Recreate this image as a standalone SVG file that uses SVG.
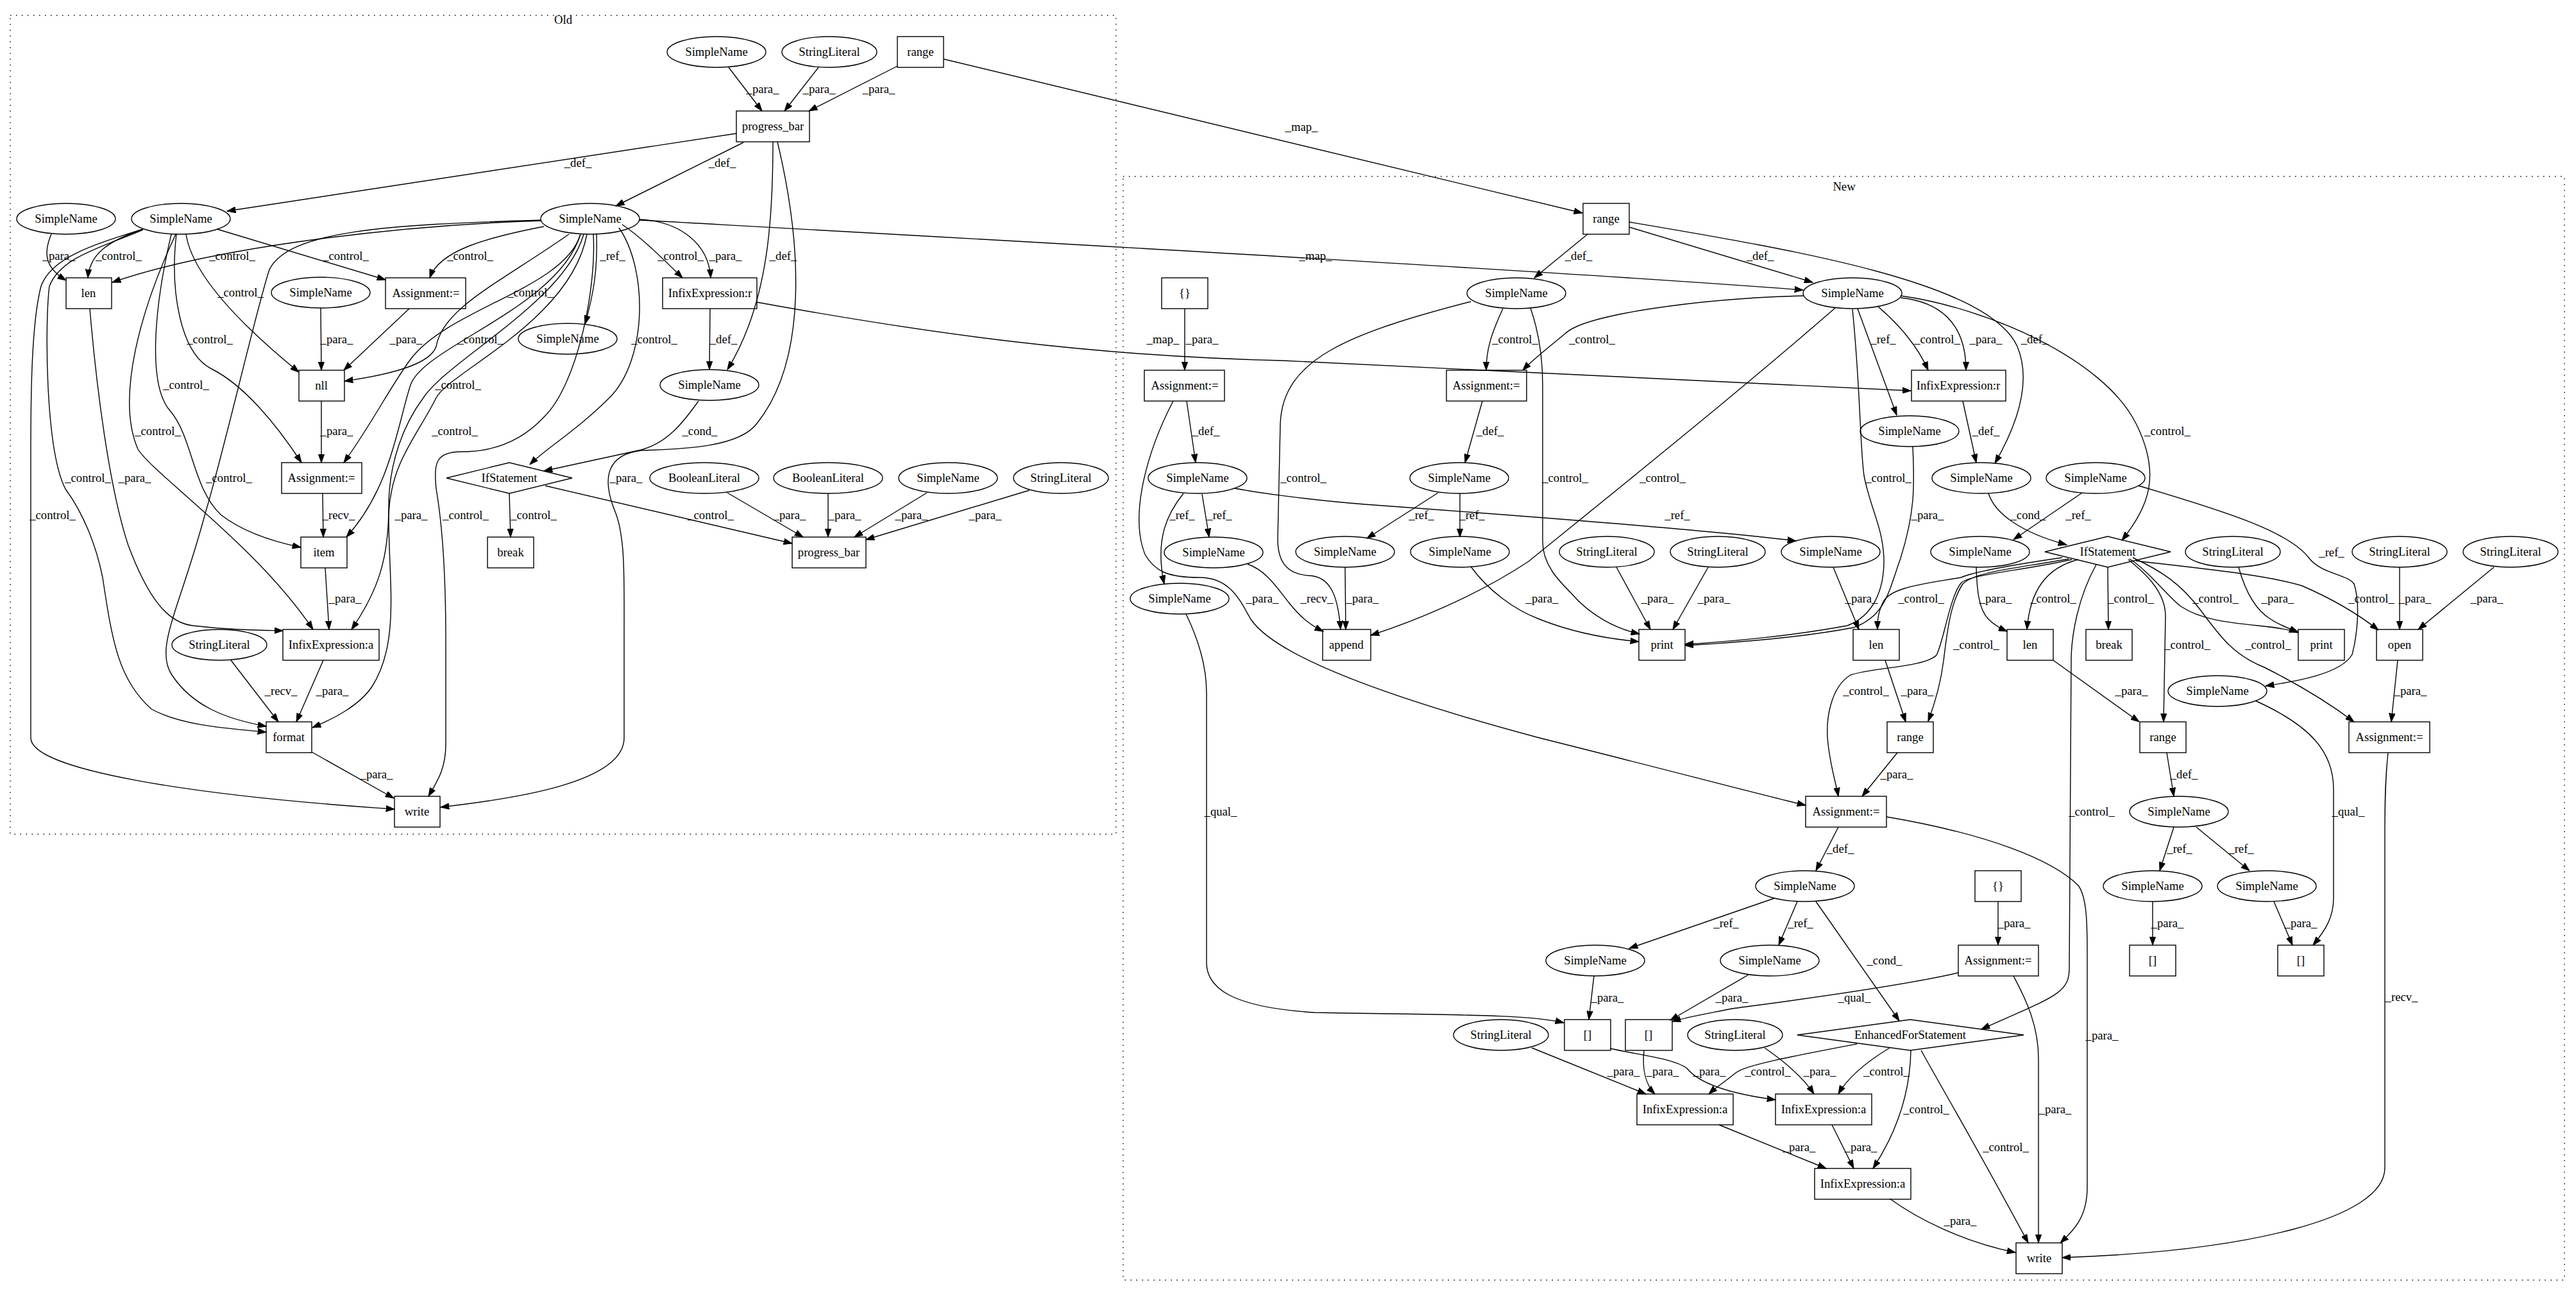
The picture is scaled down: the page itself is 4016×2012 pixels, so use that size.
<svg xmlns="http://www.w3.org/2000/svg" width="4016" height="2012" viewBox="0 0 4016 2012">
<style>
text{font-family:"Liberation Serif","Times New Roman",serif;font-size:18.67px;text-anchor:middle;fill:#000}
.n ellipse,.n rect,.n polygon{fill:none;stroke:#000;stroke-width:1.4}
.e path{fill:none;stroke:#000;stroke-width:1.4;marker-end:url(#a)}
.cl{fill:none;stroke:#000;stroke-width:1.4;stroke-dasharray:1.5,7.5}
</style>
<defs>
<marker id="a" markerWidth="14" markerHeight="10" refX="13.3" refY="5" orient="auto" markerUnits="userSpaceOnUse"><path d="M0,0.3 L13.3,5 L0,9.7 z" fill="#000" stroke="#000" stroke-width="1"/></marker>
</defs>
<rect width="4016" height="2012" fill="#fff"/>
<g id="clusters">
<rect class="cl" x="16" y="24" width="1724" height="1276"/>
<text x="878" y="37">Old</text>
<rect class="cl" x="1751" y="275" width="2247" height="1720"/>
<text x="2875" y="297">New</text>
</g>
<g id="connectors" class="e">
<path d="M1136,105 L1188,173"/>
<path d="M1276,105 L1223,173"/>
<path d="M1399,103 L1261,173"/>
<path d="M1148,208 L354,329"/>
<path d="M1159,222 L960,321"/>
<path d="M1205,221 C1205,330 1200,470 1134,576"/>
<path d="M1212,221 C1250,380 1260,560 1180,660 C1150,700 1050,700 1000,702 C950,708 935,740 960,800 C975,840 973,900 973,1000 L973,1150 C973,1220 800,1245 687,1258"/>
<path d="M80,365 C65,400 75,420 103,437"/>
<path d="M223,357 C170,375 140,395 137,433"/>
<path d="M844,344 C650,350 350,380 175,440"/>
<path d="M338,357 L601,436"/>
<path d="M848,353 C760,370 685,390 670,433"/>
<path d="M930,365 C932,420 925,460 912,505"/>
<path d="M970,350 C1000,370 1030,400 1064,433"/>
<path d="M997,342 C1060,345 1105,380 1108,433"/>
<path d="M290,365 C300,430 380,510 466,580"/>
<path d="M887,365 C780,440 690,480 680,540 C670,570 600,585 537,594"/>
<path d="M500,480 L501,577"/>
<path d="M638,481 L536,577"/>
<path d="M275,365 C265,450 280,550 330,575 C380,600 430,660 470,721"/>
<path d="M905,365 C880,450 700,480 640,560 C610,600 580,660 536,721"/>
<path d="M965,355 C1010,420 1010,560 950,620 C900,670 850,700 826,724"/>
<path d="M1107,481 L1106,576"/>
<path d="M267,365 C240,480 230,600 265,640 C300,680 300,760 344,802 C380,830 430,845 469,853"/>
<path d="M905,365 C870,480 660,540 640,600 C620,660 610,760 540,837"/>
<path d="M274,365 C220,480 180,620 215,700 C240,740 400,850 488,981"/>
<path d="M501,625 L501,721"/>
<path d="M910,365 C880,470 700,560 660,620 C630,660 606,720 606,790 C606,870 590,920 548,981"/>
<path d="M1089,625 C1064,660 1040,690 1000,701 L848,734"/>
<path d="M223,358 C160,385 95,400 77,446 C70,500 70,700 102,762 C130,800 150,850 160,900 C175,1000 185,1060 236,1105 C280,1130 350,1135 415,1141"/>
<path d="M140,481 C150,600 170,760 200,850 C230,930 260,970 300,975 C360,982 400,982 441,983"/>
<path d="M844,343 C600,350 450,360 420,420 C400,480 350,700 320,800 C280,950 240,1010 268,1052 C300,1100 350,1120 415,1132"/>
<path d="M223,357 C150,380 80,400 64,446 C50,500 48,600 48,700 L48,1150 C48,1200 300,1240 615,1261"/>
<path d="M503,769 L504,837"/>
<path d="M915,365 C890,500 700,580 680,620 C650,680 610,720 606,800 C605,900 625,1000 580,1070 C560,1100 520,1120 487,1134"/>
<path d="M925,365 C930,450 900,600 848,650 C820,680 780,704 720,704 C680,704 676,720 680,762 C690,820 695,900 695,1000 L695,1160 C695,1200 680,1220 668,1241"/>
<path d="M794,769 L796,837"/>
<path d="M850,757 L1235,847"/>
<path d="M1134,768 L1252,837"/>
<path d="M1291,769 L1291,837"/>
<path d="M1445,768 L1332,837"/>
<path d="M1605,764 L1350,841"/>
<path d="M507,885 L513,981"/>
<path d="M360,1029 L434,1125"/>
<path d="M504,1029 L462,1125"/>
<path d="M486,1172 L614,1244"/>
<path d="M1471,92 L2467,332"/>
<path d="M997,343 C1300,360 2400,420 2811,452"/>
<path d="M1180,471 C1450,520 1700,555 2000,562 L2979,609"/>
<path d="M2475,365 L2392,433"/>
<path d="M2540,354 L2826,440"/>
<path d="M2540,346 C2800,390 3100,440 3145,540 C3170,600 3140,670 3110,722"/>
<path d="M2343,481 C2325,520 2317,545 2317,577"/>
<path d="M2812,461 C2650,465 2470,490 2440,520 C2410,545 2390,560 2374,577"/>
<path d="M2928,478 C2960,505 2990,540 3006,577"/>
<path d="M2963,464 C3020,470 3065,500 3065,577"/>
<path d="M2896,481 L2957,647"/>
<path d="M2963,461 C3100,480 3280,560 3330,660 C3370,740 3350,790 3308,842"/>
<path d="M2861,480 C2700,620 2500,780 2383,875 C2300,930 2200,970 2137,990"/>
<path d="M2293,470 C2100,520 2000,560 1996,660 L1992,840 C1992,880 2010,895 2040,897 C2075,898 2086,930 2090,981"/>
<path d="M1945,879 C1975,890 1990,915 2010,940 C2030,965 2045,975 2063,984"/>
<path d="M2097,884 L2098,981"/>
<path d="M2311,625 L2284,721"/>
<path d="M2242,768 L2131,839"/>
<path d="M2276,769 L2276,837"/>
<path d="M2386,480 C2400,520 2405,560 2405,600 L2405,844 C2405,880 2430,905 2450,925 C2480,960 2520,980 2556,988"/>
<path d="M2293,883 C2320,920 2360,950 2400,965 C2450,985 2500,995 2555,1000"/>
<path d="M2520,884 L2573,981"/>
<path d="M2663,884 L2608,981"/>
<path d="M2888,482 C2900,600 2900,700 2906,741 C2915,790 2935,820 2937,870 C2938,920 2920,960 2880,975 C2800,990 2700,1000 2627,1004"/>
<path d="M2982,696 C2985,760 2985,800 2963,870 C2945,920 2940,960 2890,978 C2800,995 2700,1002 2627,1006"/>
<path d="M1925,761 C1960,768 2050,780 2128,786 C2400,806 2650,825 2800,843"/>
<path d="M1874,770 L1885,837"/>
<path d="M1845,769 C1820,800 1800,840 1815,910"/>
<path d="M1850,625 L1864,721"/>
<path d="M1847,481 L1847,577"/>
<path d="M1829,625 C1790,700 1760,800 1785,864 C1800,890 1820,900 1870,900 C1920,900 1935,940 1950,965 C1980,1010 2100,1070 2400,1150 C2600,1200 2750,1240 2815,1255"/>
<path d="M1849,957 C1870,1000 1881,1040 1881,1080 L1881,1500 C1881,1540 1920,1570 2050,1578 C2250,1582 2380,1580 2438,1594"/>
<path d="M2858,884 L2898,981"/>
<path d="M3215,869 C3140,880 3080,890 3057,900 C3000,910 2945,915 2935,940 C2928,955 2927,965 2927,981"/>
<path d="M2939,1029 L2971,1125"/>
<path d="M3225,871 C3150,885 3080,890 3060,910 C3040,940 3035,990 3030,1030 C3025,1070 3015,1100 3006,1124"/>
<path d="M3230,872 C3150,890 3070,895 3057,909 C3040,930 3030,1000 3019,1021 C3000,1040 2920,1040 2885,1052 C2855,1070 2845,1120 2850,1160 C2855,1200 2862,1220 2866,1241"/>
<path d="M2958,1173 L2903,1241"/>
<path d="M3240,872 C3190,885 3165,920 3160,981"/>
<path d="M3081,884 C3082,920 3085,950 3100,965 C3110,975 3120,980 3129,984"/>
<path d="M3286,884 L3287,981"/>
<path d="M3201,1029 L3335,1125"/>
<path d="M3318,872 C3340,890 3376,920 3376,960 L3373,1125"/>
<path d="M3378,1173 L3389,1241"/>
<path d="M3389,1289 L3367,1357"/>
<path d="M3424,1289 L3507,1357"/>
<path d="M3356,1405 L3356,1473"/>
<path d="M3545,1405 L3574,1473"/>
<path d="M3516,1092 C3600,1130 3638,1170 3638,1230 L3638,1400 C3638,1430 3625,1450 3606,1473"/>
<path d="M3334,757 C3480,800 3570,830 3600,870 C3620,895 3660,895 3670,910 C3680,940 3675,990 3667,1020 C3650,1050 3580,1062 3532,1069"/>
<path d="M3246,768 L3139,841"/>
<path d="M3100,769 C3110,800 3150,830 3222,849"/>
<path d="M3060,625 L3081,721"/>
<path d="M3490,884 C3500,920 3515,950 3540,965 C3555,975 3570,980 3583,985"/>
<path d="M3320,871 C3350,890 3380,930 3400,945 C3430,965 3470,970 3520,975 C3550,978 3570,981 3582,986"/>
<path d="M3325,869 C3370,890 3400,910 3430,950 C3460,990 3480,1020 3530,1040 C3590,1070 3630,1095 3670,1125"/>
<path d="M3330,874 C3420,885 3530,895 3589,913 C3640,935 3680,960 3708,982"/>
<path d="M3741,884 L3741,981"/>
<path d="M3888,884 L3770,981"/>
<path d="M3738,1029 L3728,1125"/>
<path d="M3723,1173 C3719,1210 3718,1240 3718,1300 L3718,1820 C3718,1900 3500,1950 3215,1960"/>
<path d="M3268,880 C3240,930 3229,990 3229,1030 L3226,1510 C3226,1550 3197,1555 3089,1604"/>
<path d="M2866,1289 L2831,1357"/>
<path d="M2941,1273 C3100,1300 3200,1340 3240,1380 C3255,1400 3254,1450 3254,1500 L3254,1850 C3254,1900 3230,1920 3212,1937"/>
<path d="M2802,1405 L2773,1473"/>
<path d="M2766,1400 L2540,1478"/>
<path d="M2831,1405 L2961,1591"/>
<path d="M3115,1405 L3115,1473"/>
<path d="M3053,1516 C2950,1540 2750,1565 2700,1572 C2660,1580 2630,1585 2607,1592"/>
<path d="M3139,1521 C3160,1560 3178,1600 3178,1650 L3178,1937"/>
<path d="M2485,1521 L2477,1589"/>
<path d="M2726,1519 L2604,1590"/>
<path d="M2510,1634 C2560,1645 2610,1650 2630,1665 C2650,1690 2700,1705 2768,1714"/>
<path d="M2563,1637 C2560,1665 2565,1690 2580,1705"/>
<path d="M2388,1633 L2566,1705"/>
<path d="M2895,1627 C2800,1645 2720,1660 2706,1672 C2690,1685 2675,1695 2664,1705"/>
<path d="M2751,1633 C2790,1660 2815,1685 2828,1705"/>
<path d="M2946,1633 C2910,1655 2880,1680 2866,1705"/>
<path d="M2979,1637 C2978,1700 2960,1760 2920,1821"/>
<path d="M2995,1637 C3030,1700 3083,1790 3162,1937"/>
<path d="M2680,1753 L2847,1821"/>
<path d="M2856,1753 L2890,1821"/>
<path d="M2946,1868 C2990,1900 3060,1935 3142,1952"/>
</g>
<g id="edge-labels">
<text x="1189" y="145">_para_</text><text x="1277" y="145">_para_</text><text x="1370" y="145">_para_</text>
<text x="901" y="260">_def_</text><text x="1126" y="260">_def_</text>
<text x="92" y="405">_para_</text><text x="185" y="405">_control_</text><text x="362" y="405">_control_</text><text x="539" y="405">_control_</text><text x="733" y="405">_control_</text><text x="955" y="405">_ref_</text><text x="1061" y="405">_control_</text><text x="1131" y="405">_para_</text><text x="1221" y="405">_def_</text>
<text x="375" y="462">_control_</text><text x="827" y="462">_control_</text>
<text x="327" y="535">_control_</text><text x="525" y="535">_para_</text><text x="633" y="535">_para_</text><text x="749" y="535">_control_</text><text x="1020" y="535">_control_</text><text x="1128" y="535">_def_</text>
<text x="290" y="606">_control_</text><text x="714" y="606">_control_</text>
<text x="246" y="678">_control_</text><text x="525" y="678">_para_</text><text x="709" y="678">_control_</text><text x="1091" y="678">_cond_</text>
<text x="137" y="751">_control_</text><text x="210" y="751">_para_</text><text x="357" y="751">_control_</text><text x="976" y="751">_para_</text>
<text x="82" y="809">_control_</text><text x="528" y="809">_recv_</text><text x="641" y="809">_para_</text><text x="726" y="809">_control_</text><text x="832" y="809">_control_</text><text x="1108" y="809">_control_</text><text x="1231" y="809">_para_</text><text x="1317" y="809">_para_</text><text x="1421" y="809">_para_</text><text x="1536" y="809">_para_</text>
<text x="538" y="939">_para_</text>
<text x="438" y="1083">_recv_</text><text x="518" y="1083">_para_</text>
<text x="587" y="1213">_para_</text>
<text x="2029" y="204">_map_</text><text x="2051" y="405">_map_</text><text x="1813" y="535">_map_</text>
<text x="1874" y="535">_para_</text>
<text x="2461" y="405">_def_</text><text x="2744" y="405">_def_</text><text x="3172" y="535">_def_</text>
<text x="2362" y="535">_control_</text><text x="2482" y="535">_control_</text><text x="3020" y="535">_control_</text><text x="3096" y="535">_para_</text><text x="2936" y="535">_ref_</text>
<text x="1880" y="678">_def_</text><text x="2323" y="678">_def_</text><text x="3379" y="678">_control_</text><text x="3096" y="678">_def_</text>
<text x="2032" y="751">_control_</text><text x="2440" y="751">_control_</text><text x="2592" y="751">_control_</text><text x="2944" y="751">_control_</text>
<text x="1843" y="809">_ref_</text><text x="1901" y="809">_ref_</text><text x="2216" y="809">_ref_</text><text x="2295" y="809">_ref_</text><text x="2615" y="809">_ref_</text><text x="3005" y="809">_para_</text><text x="3162" y="809">_cond_</text><text x="3240" y="809">_ref_</text>
<text x="3635" y="867">_ref_</text>
<text x="1968" y="939">_para_</text><text x="2053" y="939">_recv_</text><text x="2124" y="939">_para_</text><text x="2404" y="939">_para_</text><text x="2584" y="939">_para_</text><text x="2672" y="939">_para_</text><text x="2902" y="939">_para_</text><text x="2995" y="939">_control_</text><text x="3111" y="939">_para_</text><text x="3201" y="939">_control_</text><text x="3322" y="939">_control_</text><text x="3454" y="939">_control_</text><text x="3551" y="939">_para_</text><text x="3697" y="939">_control_</text><text x="3765" y="939">_para_</text><text x="3877" y="939">_para_</text>
<text x="3081" y="1011">_control_</text><text x="3410" y="1011">_control_</text><text x="3536" y="1011">_control_</text>
<text x="2909" y="1083">_control_</text><text x="2989" y="1083">_para_</text><text x="3323" y="1083">_para_</text><text x="3758" y="1083">_para_</text>
<text x="2957" y="1213">_para_</text><text x="3405" y="1213">_def_</text>
<text x="1903" y="1271">_qual_</text><text x="3261" y="1271">_control_</text><text x="3661" y="1271">_qual_</text>
<text x="2869" y="1329">_def_</text><text x="3398" y="1329">_ref_</text><text x="3494" y="1329">_ref_</text>
<text x="2691" y="1445">_ref_</text><text x="2807" y="1445">_ref_</text><text x="3140" y="1445">_para_</text><text x="3379" y="1445">_para_</text><text x="3587" y="1445">_para_</text>
<text x="2938" y="1503">_cond_</text>
<text x="2506" y="1561">_para_</text><text x="2700" y="1561">_para_</text><text x="2891" y="1561">_qual_</text><text x="3744" y="1560">_recv_</text>
<text x="3277" y="1620">_para_</text>
<text x="2531" y="1676">_para_</text><text x="2592" y="1676">_para_</text><text x="2665" y="1676">_para_</text><text x="2756" y="1676">_control_</text><text x="2837" y="1676">_para_</text><text x="2941" y="1676">_control_</text>
<text x="3003" y="1735">_control_</text><text x="3204" y="1735">_para_</text>
<text x="2805" y="1794">_para_</text><text x="2901" y="1794">_para_</text><text x="3127" y="1794">_control_</text>
<text x="3056" y="1909">_para_</text>
</g>
<g class="n">
<g id="o1"><ellipse cx="103" cy="341" rx="77" ry="24"/><text x="103" y="347">SimpleName</text></g>
<g id="o2"><ellipse cx="282" cy="341" rx="77" ry="24"/><text x="282" y="347">SimpleName</text></g>
<g id="o3"><ellipse cx="920" cy="341" rx="77" ry="24"/><text x="920" y="347">SimpleName</text></g>
<g id="o4"><ellipse cx="1117" cy="81" rx="77" ry="24"/><text x="1117" y="87">SimpleName</text></g>
<g id="o5"><ellipse cx="1293" cy="81" rx="74" ry="24"/><text x="1293" y="87">StringLiteral</text></g>
<g id="o6"><rect x="1399" y="57" width="72" height="48"/><text x="1435" y="87">range</text></g>
<g id="o7"><rect x="1148" y="173" width="114" height="48"/><text x="1205" y="203">progress_bar</text></g>
<g id="o8"><rect x="103" y="433" width="71" height="48"/><text x="138" y="463">len</text></g>
<g id="o9"><ellipse cx="500" cy="456" rx="77" ry="24"/><text x="500" y="462">SimpleName</text></g>
<g id="o10"><rect x="601" y="433" width="125" height="48"/><text x="664" y="463">Assignment:=</text></g>
<g id="o11"><rect x="1033" y="433" width="147" height="48"/><text x="1107" y="463">InfixExpression:r</text></g>
<g id="o12"><rect x="466" y="577" width="71" height="48"/><text x="501" y="607">nll</text></g>
<g id="o13"><ellipse cx="885" cy="528" rx="77" ry="24"/><text x="885" y="534">SimpleName</text></g>
<g id="o14"><ellipse cx="1106" cy="600" rx="77" ry="24"/><text x="1106" y="606">SimpleName</text></g>
<g id="o15"><rect x="439" y="721" width="125" height="48"/><text x="501" y="751">Assignment:=</text></g>
<g id="o16"><polygon points="696,745 794,721 892,745 794,769"/><text x="794" y="751">IfStatement</text></g>
<g id="o17"><ellipse cx="1098" cy="745" rx="85" ry="24"/><text x="1098" y="751">BooleanLiteral</text></g>
<g id="o18"><ellipse cx="1291" cy="745" rx="85" ry="24"/><text x="1291" y="751">BooleanLiteral</text></g>
<g id="o19"><ellipse cx="1478" cy="745" rx="77" ry="24"/><text x="1478" y="751">SimpleName</text></g>
<g id="o20"><ellipse cx="1654" cy="745" rx="74" ry="24"/><text x="1654" y="751">StringLiteral</text></g>
<g id="o21"><rect x="469" y="837" width="72" height="48"/><text x="505" y="867">item</text></g>
<g id="o22"><rect x="760" y="837" width="72" height="48"/><text x="796" y="867">break</text></g>
<g id="o23"><rect x="1235" y="837" width="115" height="48"/><text x="1292" y="867">progress_bar</text></g>
<g id="o24"><ellipse cx="342" cy="1005" rx="74" ry="24"/><text x="342" y="1011">StringLiteral</text></g>
<g id="o25"><rect x="441" y="981" width="150" height="48"/><text x="516" y="1011">InfixExpression:a</text></g>
<g id="o26"><rect x="415" y="1125" width="71" height="48"/><text x="450" y="1155">format</text></g>
<g id="o27"><rect x="615" y="1241" width="71" height="48"/><text x="650" y="1271">write</text></g>
<g id="n1"><rect x="2468" y="317" width="72" height="48"/><text x="2504" y="347">range</text></g>
<g id="n2"><ellipse cx="2364" cy="457" rx="77" ry="24"/><text x="2364" y="463">SimpleName</text></g>
<g id="n3"><ellipse cx="2888" cy="457" rx="77" ry="24"/><text x="2888" y="463">SimpleName</text></g>
<g id="n4"><rect x="1811" y="433" width="72" height="48"/><text x="1847" y="463">{}</text></g>
<g id="n5"><rect x="1784" y="577" width="125" height="48"/><text x="1847" y="607">Assignment:=</text></g>
<g id="n6"><rect x="2255" y="577" width="125" height="48"/><text x="2317" y="607">Assignment:=</text></g>
<g id="n7"><rect x="2980" y="577" width="147" height="48"/><text x="3053" y="607">InfixExpression:r</text></g>
<g id="n8"><ellipse cx="1867" cy="745" rx="77" ry="24"/><text x="1867" y="751">SimpleName</text></g>
<g id="n9"><ellipse cx="2275" cy="745" rx="77" ry="24"/><text x="2275" y="751">SimpleName</text></g>
<g id="n10"><ellipse cx="2977" cy="672" rx="77" ry="24"/><text x="2977" y="678">SimpleName</text></g>
<g id="n11"><ellipse cx="3089" cy="745" rx="77" ry="24"/><text x="3089" y="751">SimpleName</text></g>
<g id="n12"><ellipse cx="3267" cy="745" rx="77" ry="24"/><text x="3267" y="751">SimpleName</text></g>
<g id="n13"><ellipse cx="1892" cy="861" rx="77" ry="24"/><text x="1892" y="867">SimpleName</text></g>
<g id="n14"><ellipse cx="2097" cy="860" rx="77" ry="24"/><text x="2097" y="866">SimpleName</text></g>
<g id="n15"><ellipse cx="2276" cy="860" rx="77" ry="24"/><text x="2276" y="866">SimpleName</text></g>
<g id="n16"><ellipse cx="2505" cy="860" rx="74" ry="24"/><text x="2505" y="866">StringLiteral</text></g>
<g id="n17"><ellipse cx="2678" cy="860" rx="74" ry="24"/><text x="2678" y="866">StringLiteral</text></g>
<g id="n18"><ellipse cx="2854" cy="860" rx="77" ry="24"/><text x="2854" y="866">SimpleName</text></g>
<g id="n19"><ellipse cx="3087" cy="860" rx="77" ry="24"/><text x="3087" y="866">SimpleName</text></g>
<g id="n20"><polygon points="3188,860 3286,836 3384,860 3286,884"/><text x="3286" y="866">IfStatement</text></g>
<g id="n21"><ellipse cx="3481" cy="860" rx="74" ry="24"/><text x="3481" y="866">StringLiteral</text></g>
<g id="n22"><ellipse cx="3741" cy="860" rx="74" ry="24"/><text x="3741" y="866">StringLiteral</text></g>
<g id="n23"><ellipse cx="3914" cy="860" rx="74" ry="24"/><text x="3914" y="866">StringLiteral</text></g>
<g id="n24"><ellipse cx="1839" cy="933" rx="77" ry="24"/><text x="1839" y="939">SimpleName</text></g>
<g id="n25"><rect x="2062" y="981" width="75" height="48"/><text x="2099" y="1011">append</text></g>
<g id="n26"><rect x="2555" y="981" width="72" height="48"/><text x="2591" y="1011">print</text></g>
<g id="n27"><rect x="2889" y="981" width="72" height="48"/><text x="2925" y="1011">len</text></g>
<g id="n28"><rect x="3129" y="981" width="72" height="48"/><text x="3165" y="1011">len</text></g>
<g id="n29"><rect x="3252" y="981" width="72" height="48"/><text x="3288" y="1011">break</text></g>
<g id="n30"><rect x="3583" y="981" width="72" height="48"/><text x="3619" y="1011">print</text></g>
<g id="n31"><rect x="3705" y="981" width="72" height="48"/><text x="3741" y="1011">open</text></g>
<g id="n32"><ellipse cx="3457" cy="1077" rx="77" ry="24"/><text x="3457" y="1083">SimpleName</text></g>
<g id="n33"><rect x="2942" y="1125" width="72" height="48"/><text x="2978" y="1155">range</text></g>
<g id="n34"><rect x="3336" y="1125" width="72" height="48"/><text x="3372" y="1155">range</text></g>
<g id="n35"><rect x="3662" y="1125" width="126" height="48"/><text x="3725" y="1155">Assignment:=</text></g>
<g id="n36"><rect x="2815" y="1241" width="126" height="48"/><text x="2878" y="1271">Assignment:=</text></g>
<g id="n37"><ellipse cx="3397" cy="1265" rx="77" ry="24"/><text x="3397" y="1271">SimpleName</text></g>
<g id="n38"><ellipse cx="2814" cy="1381" rx="77" ry="24"/><text x="2814" y="1387">SimpleName</text></g>
<g id="n39"><rect x="3079" y="1357" width="72" height="48"/><text x="3115" y="1387">{}</text></g>
<g id="n40"><ellipse cx="3356" cy="1381" rx="77" ry="24"/><text x="3356" y="1387">SimpleName</text></g>
<g id="n41"><ellipse cx="3534" cy="1381" rx="77" ry="24"/><text x="3534" y="1387">SimpleName</text></g>
<g id="n42"><ellipse cx="2487" cy="1497" rx="77" ry="24"/><text x="2487" y="1503">SimpleName</text></g>
<g id="n43"><ellipse cx="2759" cy="1497" rx="77" ry="24"/><text x="2759" y="1503">SimpleName</text></g>
<g id="n44"><rect x="3053" y="1473" width="125" height="48"/><text x="3115" y="1503">Assignment:=</text></g>
<g id="n45"><rect x="3320" y="1473" width="72" height="48"/><text x="3356" y="1503">[]</text></g>
<g id="n46"><rect x="3551" y="1473" width="72" height="48"/><text x="3587" y="1503">[]</text></g>
<g id="n47"><ellipse cx="2340" cy="1613" rx="74" ry="24"/><text x="2340" y="1619">StringLiteral</text></g>
<g id="n48"><rect x="2439" y="1589" width="72" height="48"/><text x="2475" y="1619">[]</text></g>
<g id="n49"><rect x="2534" y="1589" width="73" height="48"/><text x="2570" y="1619">[]</text></g>
<g id="n50"><ellipse cx="2705" cy="1613" rx="74" ry="24"/><text x="2705" y="1619">StringLiteral</text></g>
<g id="n51"><polygon points="2802,1613 2978,1589 3155,1613 2978,1637"/><text x="2978" y="1619">EnhancedForStatement</text></g>
<g id="n52"><rect x="2552" y="1705" width="150" height="48"/><text x="2627" y="1735">InfixExpression:a</text></g>
<g id="n53"><rect x="2768" y="1705" width="150" height="48"/><text x="2843" y="1735">InfixExpression:a</text></g>
<g id="n54"><rect x="2829" y="1821" width="150" height="48"/><text x="2904" y="1851">InfixExpression:a</text></g>
<g id="n55"><rect x="3143" y="1937" width="72" height="48"/><text x="3179" y="1967">write</text></g>
</g>
</svg>
